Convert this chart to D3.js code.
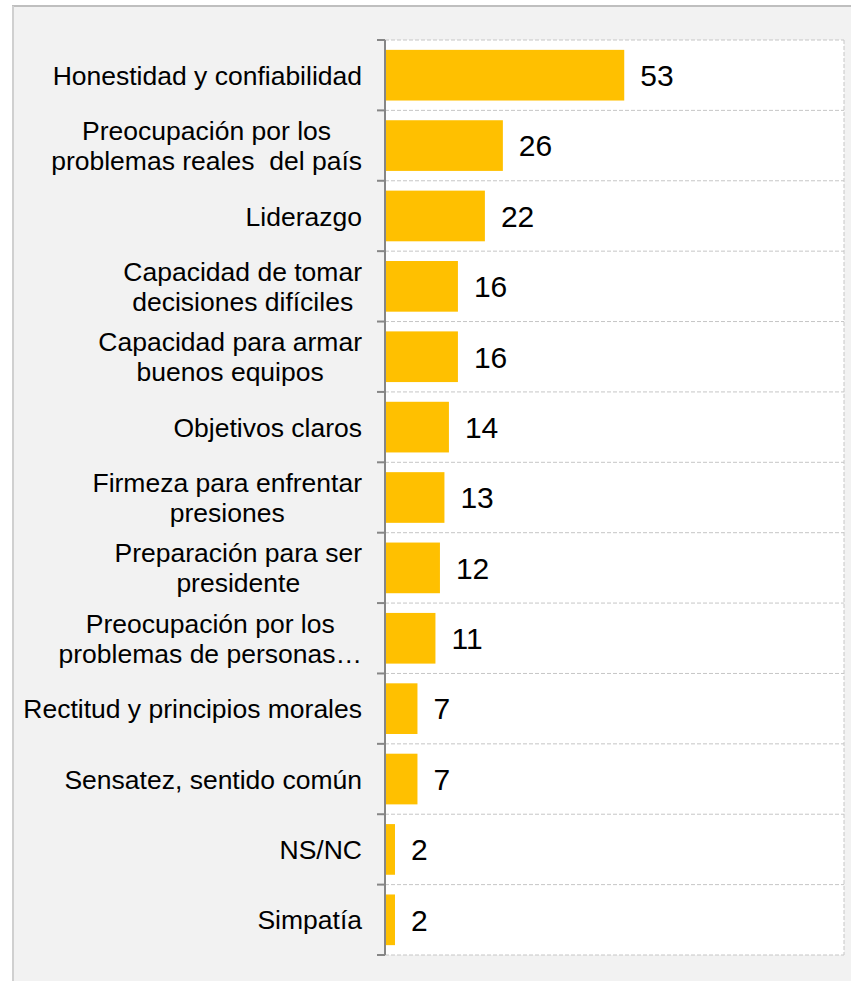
<!DOCTYPE html>
<html>
<head>
<meta charset="utf-8">
<script src="https://cdn.jsdelivr.net/npm/d3@7"></script>
<style>
  html, body { margin: 0; padding: 0; background: #ffffff; }
  svg { display: block; }
  text { font-family: "Liberation Sans", Arial, sans-serif; white-space: pre; }
</style>
</head>
<body>
<svg id="chart" width="851" height="981"></svg>
<script>
const categories = [
  "Honestidad y confiabilidad",
  "Preocupación por los\nproblemas reales  del país",
  "Liderazgo",
  "Capacidad de tomar\ndecisiones difíciles",
  "Capacidad para armar\nbuenos equipos",
  "Objetivos claros",
  "Firmeza para enfrentar\npresiones",
  "Preparación para ser\npresidente",
  "Preocupación por los\nproblemas de personas…",
  "Rectitud y principios morales",
  "Sensatez, sentido común",
  "NS/NC",
  "Simpatía"
];
const values = [53, 26, 22, 16, 16, 14, 13, 12, 11, 7, 7, 2, 2];
const xDomain = [0, 101];

const svg = d3.select("#chart");
const W = 851, H = 981;

// chart background frame
svg.append("rect").attr("x", 13).attr("y", 6).attr("width", W - 13).attr("height", H - 6).attr("fill", "#f2f2f2");
svg.append("line").attr("x1", 12).attr("x2", W).attr("y1", 6).attr("y2", 6).attr("stroke", "#bfbfbf").attr("stroke-width", 2);
svg.append("line").attr("x1", 13).attr("x2", 13).attr("y1", 6).attr("y2", H).attr("stroke", "#d0d0d0").attr("stroke-width", 2);

const plot = { left: 385, right: 844, top: 40, bottom: 955 };

const y = d3.scaleBand().domain(d3.range(categories.length))
  .range([plot.top, plot.bottom]).paddingInner(0.28).paddingOuter(0.14);
const x = d3.scaleLinear().domain(xDomain).range([plot.left + 1, plot.right - 4]);

// plot area
svg.append("rect").attr("x", plot.left).attr("y", plot.top)
  .attr("width", plot.right - plot.left).attr("height", plot.bottom - plot.top)
  .attr("fill", "#ffffff");

// gridlines (band boundaries)
const bounds = d3.range(categories.length + 1).map(i => plot.top + i * (plot.bottom - plot.top) / categories.length);
svg.append("g").selectAll("line").data(bounds).join("line")
  .attr("x1", plot.left).attr("x2", plot.right)
  .attr("y1", d => d).attr("y2", d => d)
  .attr("stroke", "#c6c6c6").attr("stroke-width", 1).attr("stroke-dasharray", "4,2");
svg.append("line").attr("x1", plot.right).attr("x2", plot.right)
  .attr("y1", plot.top).attr("y2", plot.bottom)
  .attr("stroke", "#c6c6c6").attr("stroke-width", 1).attr("stroke-dasharray", "4,2");

// bars
svg.append("g").selectAll("rect").data(values).join("rect")
  .attr("x", x(0)).attr("y", (d, i) => y(i))
  .attr("width", d => x(d) - x(0)).attr("height", y.bandwidth())
  .attr("fill", "#FFC000");

// axis line and ticks
svg.append("line").attr("x1", plot.left).attr("x2", plot.left)
  .attr("y1", plot.top).attr("y2", plot.bottom)
  .attr("stroke", "#868686").attr("stroke-width", 2);
svg.append("g").selectAll("line").data(bounds).join("line")
  .attr("x1", plot.left - 8).attr("x2", plot.left)
  .attr("y1", d => d).attr("y2", d => d)
  .attr("stroke", "#868686").attr("stroke-width", 2);

// value labels
svg.append("g").selectAll("text").data(values).join("text")
  .attr("x", d => x(d) + 16).attr("y", (d, i) => y(i) + y.bandwidth() / 2)
  .attr("dy", "0.36em")
  .attr("font-size", 30).attr("fill", "#000")
  .text(d => d);

// category labels (one text element per label, one tspan per line)
const labelRight = 362;
const lineH = 30;
categories.forEach((c, i) => {
  const lines = c.split("\n");
  const cy = y(i) + y.bandwidth() / 2;
  const t = svg.append("text")
    .attr("font-size", 26.5).attr("fill", "#000")
    .attr("text-anchor", "middle");
  const spans = lines.map((ln, k) => t.append("tspan")
    .attr("y", cy + (k - (lines.length - 1) / 2) * lineH)
    .attr("dy", "0.36em")
    .text(ln));
  const maxW = d3.max(spans, s => s.node().getComputedTextLength());
  spans.forEach(s => s.attr("x", labelRight - maxW / 2));
});
</script>
</body>
</html>
